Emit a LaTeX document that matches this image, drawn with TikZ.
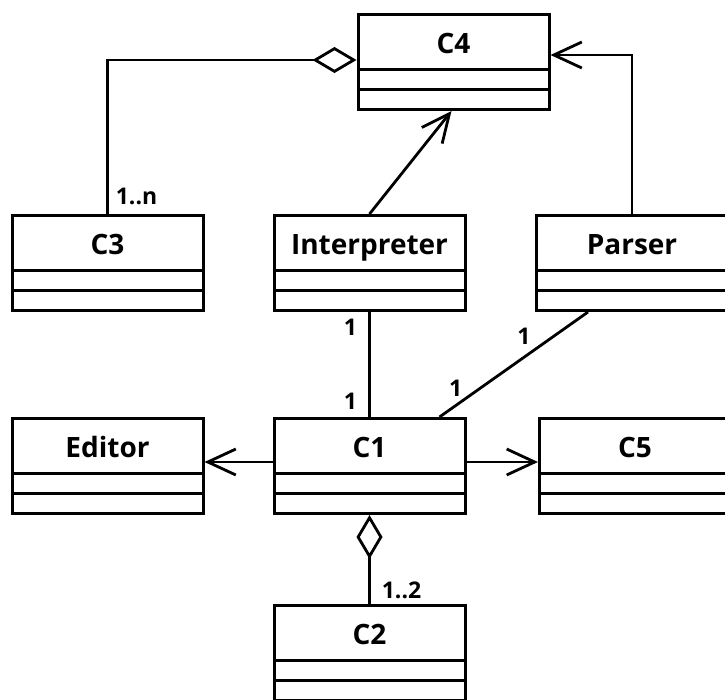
\documentclass[tikz,border=0pt]{standalone}
\usepackage{fontspec}
\setmainfont{Open Sans}
\usetikzlibrary{arrows.meta}
\usetikzlibrary{calc}
\usetikzlibrary{shapes.multipart}

\newcommand{\clsparts}[1]{\rule[-15pt]{0pt}{52pt}#1\nodepart{two}\rule{0pt}{17pt}\nodepart{three}\rule{0pt}{17pt}}

\begin{document}
\begin{tikzpicture}[x=1pt,y=-1pt,
  cls/.style={rectangle split, rectangle split parts=3, draw, line width=3pt,
    inner xsep=0pt, inner ysep=0pt, text width=191pt, align=center, anchor=north,
    font=\fontsize{28}{32}\selectfont\bfseries},
  conn/.style={line width=2.8pt},
  dep/.style={conn, -{Straight Barb[length=28pt,width=26pt]}},
  aggr/.style={conn, {Diamond[open,length=44pt,width=26pt]}-},
  mult/.style={font=\fontsize{23}{26}\selectfont\bfseries, inner sep=0pt}]

  \useasboundingbox (0,0) rectangle (725,699);

  % classes
  \node[cls] (c4) at (453.5,13) {\clsparts{C4}};
  \node[cls] (c3) at (107.5,214) {\clsparts{C3}};
  \node[cls] (interp) at (369.5,214) {\clsparts{Interpreter}};
  \node[cls] (parser) at (632,214) {\clsparts{Parser}};
  \node[cls] (editor) at (107.5,417) {\clsparts{Editor}};
  \node[cls] (c1) at (369.5,417) {\clsparts{C1}};
  \node[cls] (c5) at (635,417) {\clsparts{C5}};
  \node[cls] (c2) at (369.5,604) {\clsparts{C2}};

  % relations
  \draw[aggr] ($(c4.north west)+(0,47)$) -| node[mult, at end, xshift=29pt, yshift=18pt]{1..n} (c3.north);
  \draw[dep] (interp.north) -- ($(c4.south)+(-2,0)$);
  \draw[dep] (parser.north) |- ($(c4.north east)+(0,42)$);
  \draw[conn] (interp.south) -- node[mult, pos=0.15, xshift=-19pt]{1}
    node[mult, pos=0.85, xshift=-19pt]{1} (c1.north);
  \draw[conn] ($(parser.south)+(-44,0)$) -- node[mult, pos=0.23, xshift=-30pt]{1}
    node[mult, pos=0.73, xshift=-24pt]{1} ($(c1.north)+(70,0)$);
  \draw[dep] ($(c1.north west)+(0,45)$) -- ($(editor.north east)+(0,45)$);
  \draw[dep] ($(c1.north east)+(0,45)$) -- ($(c5.north west)+(0,45)$);
  \draw[aggr] (c1.south) -- node[mult, at end, xshift=32pt, yshift=14pt]{1..2} (c2.north);

\end{tikzpicture}
\end{document}
